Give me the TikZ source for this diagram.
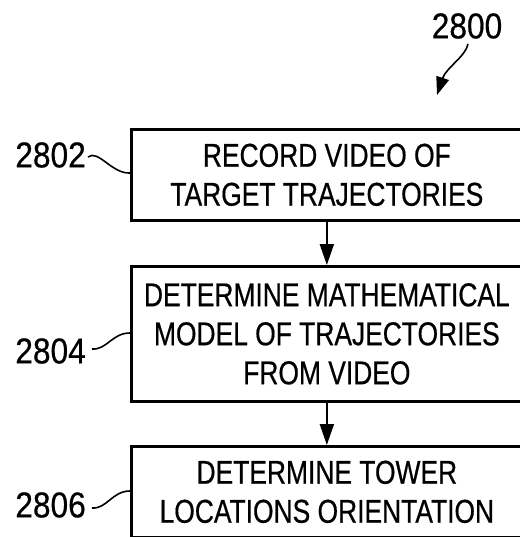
\documentclass[tikz,border=0pt]{standalone}
\usepackage{fontspec}
\setmainfont{Liberation Sans}[FakeStretch=0.8,FakeBold=0.5]
\newfontfamily\labfont{Liberation Sans}[FakeStretch=0.88,FakeBold=0.5]
\usetikzlibrary{arrows.meta}
\begin{document}
\begin{tikzpicture}[x=1pt,y=-1pt,
  stepbox/.style={draw,line width=2.7pt,anchor=north west,minimum width=391pt,
    align=center,inner sep=0pt,font=\fontsize{33}{39}\selectfont},
  reflabel/.style={inner sep=0pt,font=\labfont\fontsize{36}{40}\selectfont},
  leader/.style={line width=1.6pt},
  flow/.style={line width=2pt,-{Triangle[length=21pt,width=14pt]}}]
\useasboundingbox (0,0) rectangle (519,537);
\node[stepbox,minimum height=91pt] (b1) at (130,128) {RECORD VIDEO OF\\TARGET TRAJECTORIES};
\node[stepbox,minimum height=135pt] (b2) at (130,265) {DETERMINE MATHEMATICAL\\MODEL OF TRAJECTORIES\\FROM VIDEO};
\node[stepbox,minimum height=91pt] (b3) at (130,445) {DETERMINE TOWER\\LOCATIONS ORIENTATION};
\draw[flow] (b1.south) -- (b2.north);
\draw[flow] (b2.south) -- (b3.north);
\node[reflabel] (l0) at (467,26) {2800};
\node[reflabel,anchor=east] (l2) at (86,155) {2802};
\node[reflabel,anchor=east] (l4) at (86,351) {2804};
\node[reflabel,anchor=east] (l6) at (86,505) {2806};
\coordinate (c2) at (b1.west |- 0,173);
\coordinate (c4) at (b2.west |- 0,333);
\coordinate (c6) at (b3.west |- 0,491);
\draw[leader] (l2.east) ++(2,2) .. controls +(10,-8) and (112,174) .. (c2);
\draw[leader] (l4.east) ++(6,-2) .. controls +(15,1) and (112,333) .. (c4);
\draw[leader] (l6.east) ++(6,3) .. controls +(15,1) and (112,491) .. (c6);
\coordinate (t0) at (437,95);
\draw[leader,-{Triangle[length=18pt,width=13pt]}] (l0.south) ++(1,5) .. controls +(-2,12) and (446,68) .. (t0);
\end{tikzpicture}
\end{document}
